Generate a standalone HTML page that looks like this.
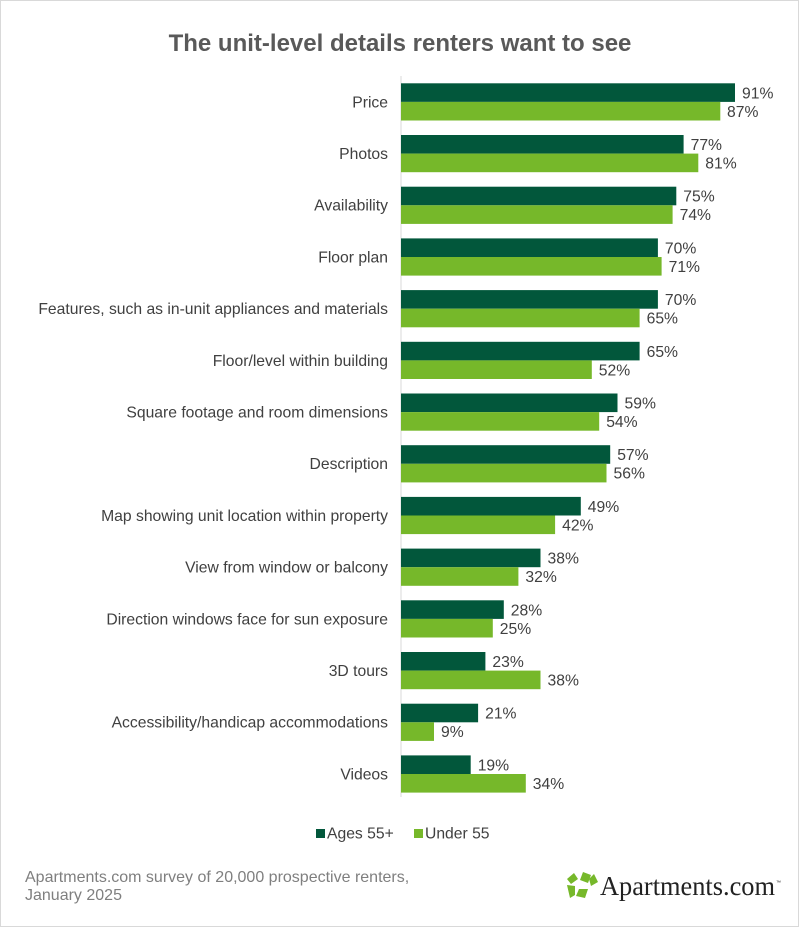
<!DOCTYPE html>
<html><head><meta charset="utf-8"><style>
body{margin:0;background:#fff}
svg{display:block;font-family:"Liberation Sans",Arial,sans-serif}
.c{font-size:15.7px;fill:#404040;text-anchor:end}
.v{font-size:15.7px;fill:#404040}
</style></head><body>
<svg width="800" height="928" viewBox="0 0 800 928">
<rect x="0.5" y="0.5" width="798" height="926" fill="#fff" stroke="#d9d9d9"/>
<text x="400" y="51" text-anchor="middle" font-size="24" font-weight="bold" fill="#595959">The unit-level details renters want to see</text>
<line x1="401" y1="76" x2="401" y2="797" stroke="#d9d9d9"/>
<g transform="translate(0,83.3)"><rect x="401" y="0" width="334" height="18.6" fill="#02573b"/><rect x="401" y="18.6" width="319.3" height="18.6" fill="#76b82a"/><text class="c" x="388" y="24">Price</text><text class="v" x="742" y="15">91%</text><text class="v" x="727" y="33.5">87%</text></g>
<g transform="translate(0,135)"><rect x="401" y="0" width="282.6" height="18.6" fill="#02573b"/><rect x="401" y="18.6" width="297.3" height="18.6" fill="#76b82a"/><text class="c" x="388" y="24">Photos</text><text class="v" x="690.6" y="15">77%</text><text class="v" x="705.3" y="33.5">81%</text></g>
<g transform="translate(0,186.7)"><rect x="401" y="0" width="275.3" height="18.6" fill="#02573b"/><rect x="401" y="18.6" width="271.6" height="18.6" fill="#76b82a"/><text class="c" x="388" y="24">Availability</text><text class="v" x="683.3" y="15">75%</text><text class="v" x="679.6" y="33.5">74%</text></g>
<g transform="translate(0,238.4)"><rect x="401" y="0" width="256.9" height="18.6" fill="#02573b"/><rect x="401" y="18.6" width="260.6" height="18.6" fill="#76b82a"/><text class="c" x="388" y="24">Floor plan</text><text class="v" x="664.9" y="15">70%</text><text class="v" x="668.6" y="33.5">71%</text></g>
<g transform="translate(0,290.1)"><rect x="401" y="0" width="256.9" height="18.6" fill="#02573b"/><rect x="401" y="18.6" width="238.6" height="18.6" fill="#76b82a"/><text class="c" x="388" y="24">Features, such as in-unit appliances and materials</text><text class="v" x="664.9" y="15">70%</text><text class="v" x="646.6" y="33.5">65%</text></g>
<g transform="translate(0,341.8)"><rect x="401" y="0" width="238.6" height="18.6" fill="#02573b"/><rect x="401" y="18.6" width="190.8" height="18.6" fill="#76b82a"/><text class="c" x="388" y="24">Floor/level within building</text><text class="v" x="646.6" y="15">65%</text><text class="v" x="598.8" y="33.5">52%</text></g>
<g transform="translate(0,393.5)"><rect x="401" y="0" width="216.5" height="18.6" fill="#02573b"/><rect x="401" y="18.6" width="198.2" height="18.6" fill="#76b82a"/><text class="c" x="388" y="24">Square footage and room dimensions</text><text class="v" x="624.5" y="15">59%</text><text class="v" x="606.2" y="33.5">54%</text></g>
<g transform="translate(0,445.2)"><rect x="401" y="0" width="209.2" height="18.6" fill="#02573b"/><rect x="401" y="18.6" width="205.5" height="18.6" fill="#76b82a"/><text class="c" x="388" y="24">Description</text><text class="v" x="617.2" y="15">57%</text><text class="v" x="613.5" y="33.5">56%</text></g>
<g transform="translate(0,496.9)"><rect x="401" y="0" width="179.8" height="18.6" fill="#02573b"/><rect x="401" y="18.6" width="154.1" height="18.6" fill="#76b82a"/><text class="c" x="388" y="24">Map showing unit location within property</text><text class="v" x="587.8" y="15">49%</text><text class="v" x="562.1" y="33.5">42%</text></g>
<g transform="translate(0,548.6)"><rect x="401" y="0" width="139.5" height="18.6" fill="#02573b"/><rect x="401" y="18.6" width="117.4" height="18.6" fill="#76b82a"/><text class="c" x="388" y="24">View from window or balcony</text><text class="v" x="547.5" y="15">38%</text><text class="v" x="525.4" y="33.5">32%</text></g>
<g transform="translate(0,600.3)"><rect x="401" y="0" width="102.8" height="18.6" fill="#02573b"/><rect x="401" y="18.6" width="91.8" height="18.6" fill="#76b82a"/><text class="c" x="388" y="24">Direction windows face for sun exposure</text><text class="v" x="510.8" y="15">28%</text><text class="v" x="499.8" y="33.5">25%</text></g>
<g transform="translate(0,652)"><rect x="401" y="0" width="84.4" height="18.6" fill="#02573b"/><rect x="401" y="18.6" width="139.5" height="18.6" fill="#76b82a"/><text class="c" x="388" y="24">3D tours</text><text class="v" x="492.4" y="15">23%</text><text class="v" x="547.5" y="33.5">38%</text></g>
<g transform="translate(0,703.7)"><rect x="401" y="0" width="77.1" height="18.6" fill="#02573b"/><rect x="401" y="18.6" width="33" height="18.6" fill="#76b82a"/><text class="c" x="388" y="24">Accessibility/handicap accommodations</text><text class="v" x="485.1" y="15">21%</text><text class="v" x="441" y="33.5">9%</text></g>
<g transform="translate(0,755.4)"><rect x="401" y="0" width="69.7" height="18.6" fill="#02573b"/><rect x="401" y="18.6" width="124.8" height="18.6" fill="#76b82a"/><text class="c" x="388" y="24">Videos</text><text class="v" x="477.7" y="15">19%</text><text class="v" x="532.8" y="33.5">34%</text></g>
<rect x="316" y="829" width="9" height="9" fill="#02573b"/>
<text class="v" x="327" y="838.5">Ages 55+</text>
<rect x="414" y="829" width="9" height="9" fill="#76b82a"/>
<text class="v" x="425" y="838.5">Under 55</text>
<text x="25" y="882" font-size="16" fill="#7f7f7f">Apartments.com survey of 20,000 prospective renters,</text>
<text x="25" y="900" font-size="16" fill="#7f7f7f">January 2025</text>
<g fill="#76b82a">
<polygon points="583,872 591,875 588,883 580,880"/>
<polygon points="594,874 598,882 591,886 589,879"/>
<polygon points="567,879 574,873 578,879 571,884"/>
<polygon points="567,885 575,886 575,895 570,898"/>
<polygon points="579,889 588,889 585,898 576,896"/>
</g>
<text x="600" y="895" font-family="Liberation Serif,serif" font-size="27" fill="#222" textLength="175" lengthAdjust="spacingAndGlyphs">Apartments.com</text>
<text x="776" y="884" font-size="5" fill="#222">™</text>
</svg>
</body></html>
